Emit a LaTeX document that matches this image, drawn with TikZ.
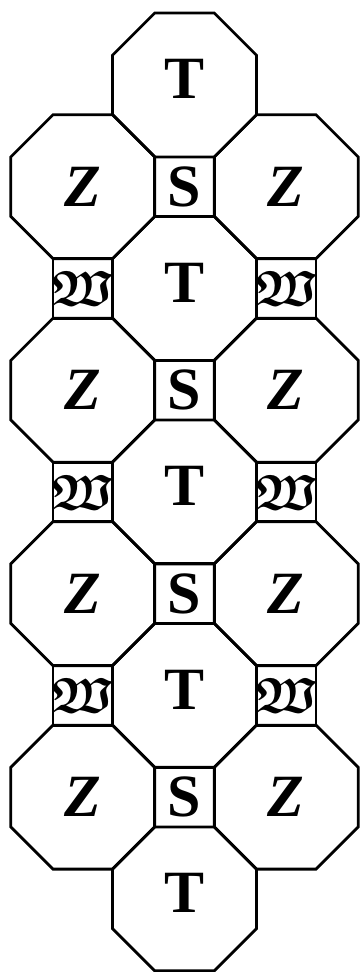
\documentclass[tikz,border=0pt]{standalone}
\usepackage{amsmath,amssymb}
\usepackage{fontspec}
\setmainfont{Liberation Serif}
\begin{document}
\begin{tikzpicture}[x=1pt,y=1pt,
  tile/.style={draw=black,line width=2.8pt,line join=miter},
  lab/.style={font=\fontsize{60}{66}\selectfont\bfseries,inner sep=0pt},
  wlab/.style={font=\fontsize{50}{56}\selectfont,inner sep=0pt},
  octagon/.pic={\draw[tile] (-29.8,71.94) -- (29.8,71.94) -- (71.94,29.8) -- (71.94,-29.8) -- (29.8,-71.94) -- (-29.8,-71.94) -- (-71.94,-29.8) -- (-71.94,29.8) -- cycle;},
  squaretile/.pic={\draw[tile] (-29.8,-29.8) rectangle (29.8,29.8);}]
\useasboundingbox (0,0) rectangle (361,972);
% central column: T octagons and S squares
\foreach \j in {0,2,4,6,8}{
  \pic at (184.5,887-\j*101.74) {octagon};
  \node[lab,yshift=6pt] (T\j) at (184.5,887-\j*101.74) {T};
}
\foreach \j in {1,3,5,7}{
  \pic at (82.76,887-\j*101.74) {octagon};
  \pic at (286.24,887-\j*101.74) {octagon};
  \pic at (184.5,887-\j*101.74) {squaretile};
  \node[lab] (ZL\j) at (82.76,887-\j*101.74) {\textit{Z}};
  \node[lab] (ZR\j) at (286.24,887-\j*101.74) {\textit{Z}};
  \node[lab] (S\j) at (184.5,887-\j*101.74) {S};
}
\foreach \j in {2,4,6}{
  \pic at (82.76,887-\j*101.74) {squaretile};
  \pic at (286.24,887-\j*101.74) {squaretile};
  \node[wlab] (WL\j) at (82.76,887-\j*101.74) {$\boldsymbol{\mathfrak{W}}$};
  \node[wlab] (WR\j) at (286.24,887-\j*101.74) {$\boldsymbol{\mathfrak{W}}$};
}
\end{tikzpicture}
\end{document}
